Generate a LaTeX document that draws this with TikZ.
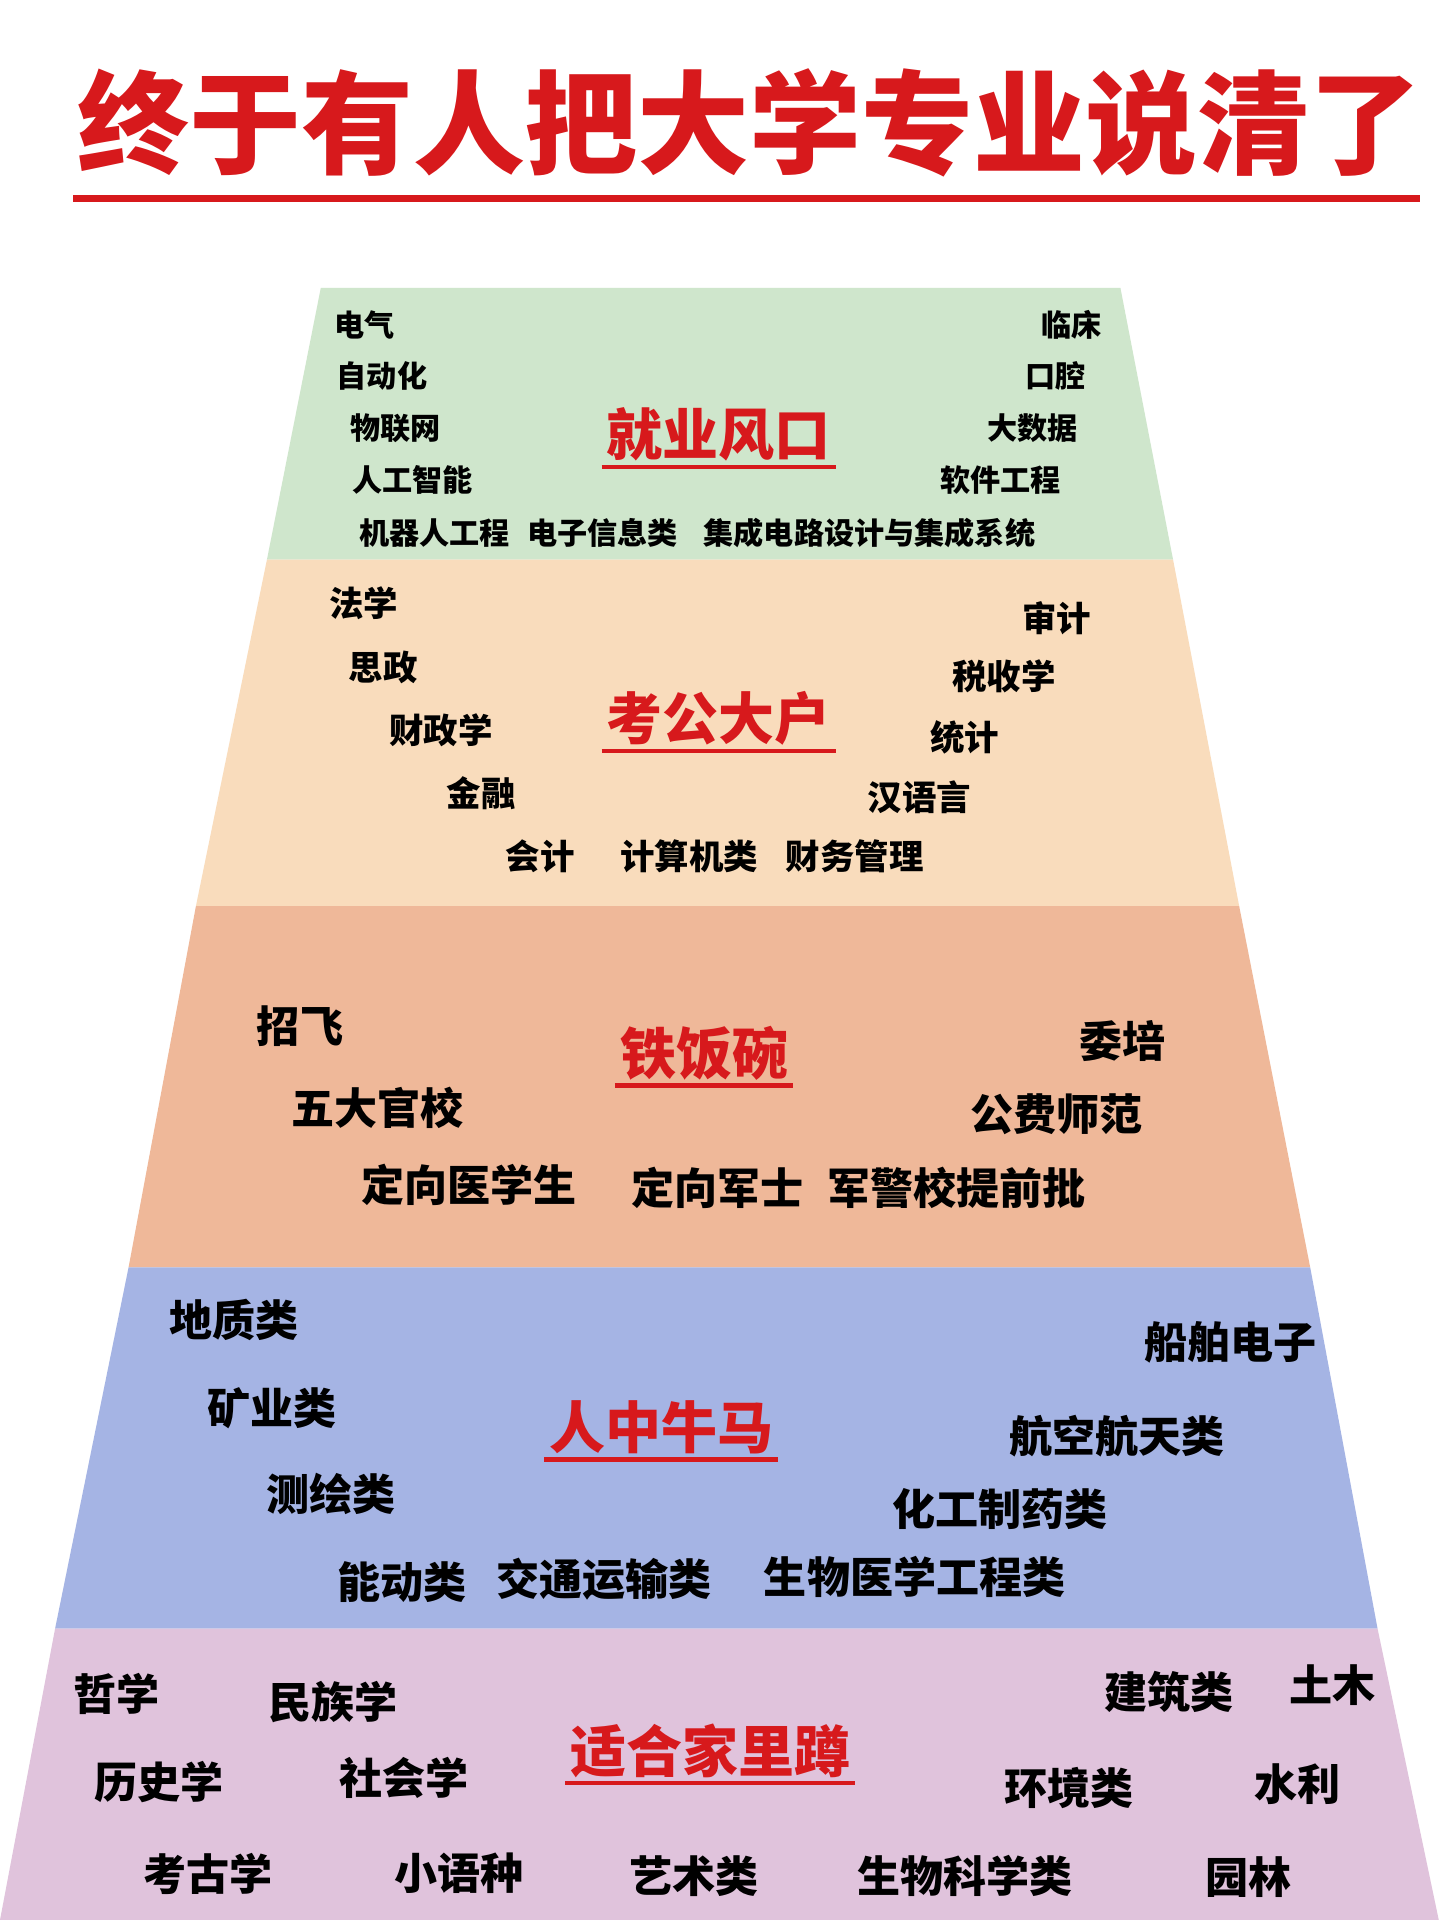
\documentclass[tikz,border=0pt]{standalone}
\usepackage{fontspec}
\setmainfont{Noto Sans CJK SC}
\usetikzlibrary{positioning,calc}

\definecolor{bandgreen}{HTML}{CFE6CC}
\definecolor{bandpeach}{HTML}{F9DCBC}
\definecolor{bandorange}{HTML}{EFB899}
\definecolor{bandblue}{HTML}{A5B4E4}
\definecolor{bandpink}{HTML}{E0C3DC}
\definecolor{titlered}{HTML}{D7191C}

\begin{document}
\begin{tikzpicture}[
    x=0.01cm, y=-0.01cm,
    band/.style={draw=none},
    headline/.style={font=\bfseries\fontsize{13}{13}\selectfont, text=titlered, inner sep=1pt},
    underline/.style={titlered, line width=1pt},
    major/.style={font=\bfseries\fontsize{#1}{#1}\selectfont, inner sep=0pt}
]
\useasboundingbox (0,0) rectangle (1175,1568);
\fill[white] (0,0) rectangle (1175,1568);

% Title
\node[font=\bfseries\fontsize{26}{26}\selectfont, text=titlered] (title) at (612,100) {终于有人把大学专业说清了};
\coordinate (rulel) at (60,162);
\coordinate (ruler) at (1160,162);
\draw[titlered, line width=1.5pt] (rulel) -- (ruler);

% Bands
\fill[bandgreen] (262,235) -- (915,235) -- (958,457) -- (218,457) -- cycle;
\fill[bandpeach] (218,457) -- (958,457) -- (1012,740) -- (160,740) -- cycle;
\fill[bandorange] (160,740) -- (1012,740) -- (1070,1035) -- (105,1035) -- cycle;
\fill[bandblue] (105,1035) -- (1070,1035) -- (1125,1330) -- (45,1330) -- cycle;
\fill[bandpink] (45,1330) -- (1125,1330) -- (1175,1568) -- (0,1568) -- cycle;

% Band headlines
\node[headline] (head1) at (587,355) {就业风口};
\node[headline] (head2) at (587,587) {考公大户};
\node[headline] (head3) at (575,860) {铁饭碗};
\node[headline] (head4) at (540,1166) {人中牛马};
\node[headline] (head5) at (580,1430) {适合家里蹲};
\foreach \h in {1,...,5}
  \draw[underline] (head\h.south west) -- (head\h.south east);

% Band 1
\foreach \t/\x/\y [count=\i] in {电气/298/265, 临床/875/265, 自动化/312/307, 口腔/862/307,
    物联网/323/350, 大数据/843/350, 人工智能/337/392, 软件工程/817/392,
    机器人工程/355/435, 电子信息类/492/435, 集成电路设计与集成系统/710/435}
  \node[major=7] (a\i) at (\x,\y) {\t};

% Band 2
\foreach \t/\x/\y [count=\i] in {法学/297/493, 审计/863/505, 思政/313/545, 税收学/820/552,
    财政学/360/596, 统计/788/602, 金融/393/648, 汉语言/751/651,
    会计/441/699, 计算机类/563/699, 财务管理/698/699}
  \node[major=8] (b\i) at (\x,\y) {\t};

% Band 3
\foreach \t/\x/\y [count=\i] in {招飞/245/838, 委培/917/850, 五大官校/308/905, 公费师范/863/910,
    定向医学生/383/968, 定向军士/586/970, 军警校提前批/781/970}
  \node[major=10] (c\i) at (\x,\y) {\t};

% Band 4
\foreach \t/\x/\y [count=\i] in {地质类/191/1078, 船舶电子/1005/1096, 矿业类/222/1150,
    航空航天类/912/1173, 测绘类/270/1220, 化工制药类/817/1232,
    能动类/328/1292, 交通运输类/493/1290, 生物医学工程类/747/1288}
  \node[major=10] (d\i) at (\x,\y) {\t};

% Band 5
\foreach \t/\x/\y [count=\i] in {哲学/95/1383, 民族学/272/1390, 建筑类/955/1382, 土木/1088/1376,
    历史学/130/1455, 社会学/330/1452, 环境类/873/1460, 水利/1060/1457,
    考古学/170/1530, 小语种/375/1530, 艺术类/567/1532, 生物科学类/788/1532, 园林/1020/1533}
  \node[major=10] (e\i) at (\x,\y) {\t};

\end{tikzpicture}
\end{document}
